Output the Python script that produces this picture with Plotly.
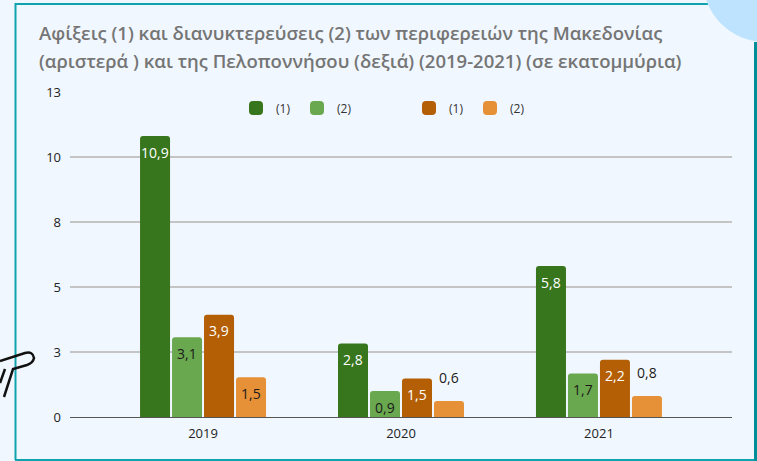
import plotly.graph_objects as go

years = ["2019", "2020", "2021"]
mac_arrivals = [11.2, 2.9, 6.0]
mac_nights = [3.15, 1.0, 1.7]
pel_arrivals = [4.05, 1.5, 2.25]
pel_nights = [1.55, 0.6, 0.8]
mac_arrivals_labels = ["10,9", "2,8", "5,8"]
mac_nights_labels = ["3,1", "0,9", "1,7"]
pel_arrivals_labels = ["3,9", "1,5", "2,2"]
pel_nights_labels = ["1,5", "0,6", "0,8"]
series_names = ["(1)", "(2)", "(1)", "(2)"]
tick_values = [0, 2.6, 5.2, 7.8, 10.4, 13]
tick_labels = ["0", "3", "5", "8", "10", "13"]
title_line_1 = "Αφίξεις (1) και διανυκτερεύσεις (2) των περιφερειών της Μακεδονίας"
title_line_2 = "(αριστερά ) και της Πελοποννήσου (δεξιά) (2019-2021) (σε εκατομμύρια)"

W, H = 757, 461
L, R, T, B = 70, 25, 92, 44
PW, PH = W - L - R, H - T - B
FONT = "Open Sans"
BG = "#f0f7ff"
colors = ["#38761d", "#6aa84f", "#b45f06", "#e69138"]
label_colors = ["#ffffff", "#1a1a1a", "#ffffff", "#1a1a1a"]
values = [mac_arrivals, mac_nights, pel_arrivals, pel_nights]
labels = [mac_arrivals_labels, mac_nights_labels, pel_arrivals_labels, pel_nights_labels]
legends = ["legend", "legend", "legend2", "legend2"]


def px(x):
    return (x - L) / PW


def py(y):
    return (H - B - y) / PH


fig = go.Figure()
for name, v, c, lg in zip(series_names, values, colors, legends):
    fig.add_bar(x=years, y=v, name=name, marker=dict(color=c, line=dict(color=c, width=2)),
                legend=lg, hoverinfo="skip")

shifts = [-48, -16, 16, 48]
for i, (v, lab) in enumerate(zip(values, labels)):
    for j, (y, t) in enumerate(zip(v, lab)):
        outside = y < 0.9
        fig.add_annotation(xref="x", yref="y", x=j, y=y, text=t, showarrow=False,
                           xshift=shifts[i], yshift=25 if outside else -15,
                           font=dict(family=FONT, size=14, color="#1a1a1a" if outside else label_colors[i],
                                     shadow="0 0 3px #ffffff" if outside else "none"))

legend_style = dict(orientation="h", xanchor="left", yanchor="middle", bgcolor="rgba(0,0,0,0)",
                    font=dict(family=FONT, size=12, color="#333333"), itemwidth=30,
                    entrywidth=16, entrywidthmode="pixels", traceorder="normal", tracegroupgap=0)

fig.add_annotation(xref="paper", yref="paper", x=px(37), y=py(60), xanchor="left", yanchor="middle",
                   text=title_line_2, showarrow=False,
                   font=dict(family=FONT, size=18.5, color="#757575", weight=600))

fig.update_layout(
    width=W, height=H, autosize=False,
    margin=dict(l=L, r=R, t=T, b=B),
    paper_bgcolor=BG, plot_bgcolor=BG,
    barmode="group", bargap=0.3535, bargroupgap=0.125, barcornerradius=2,
    title=dict(text=title_line_1, x=39 / W, xanchor="left", y=1 - 34 / H, yanchor="middle",
               font=dict(family=FONT, size=18.5, color="#757575", weight=600)),
    font=dict(family=FONT, size=12, color="#222222"),
    xaxis=dict(type="category", range=[-0.672, 2.672], showgrid=False, ticks="", showline=True,
               linecolor="#555555", linewidth=1, tickfont=dict(size=13, color="#222222"), ticklabelstandoff=4),
    yaxis=dict(range=[0, 13], tickvals=tick_values, ticktext=tick_labels, gridcolor="#c4c4c4", gridwidth=1.5,
               zeroline=False, showline=False, ticks="", ticklabelstandoff=8, tickfont=dict(size=13, color="#222222")),
    legend=dict(x=px(236), y=py(108), **legend_style),
    legend2=dict(x=px(409), y=py(108), **legend_style),
    showlegend=True,
)

TEAL = "#0fa3ad"
frame = [
    (15.5, 4, 708, 4, TEAL, 2),
    (15.5, 3, 15.5, 460, TEAL, 2),
    (15, 460, 757, 460, TEAL, 2),
    (755.5, 42, 755.5, 461, "#008f98", 3),
]
for x0, y0, x1, y1, c, w in frame:
    fig.add_shape(type="line", xref="paper", yref="paper", x0=px(x0), y0=py(y0), x1=px(x1), y1=py(y1),
                  line=dict(color=c, width=w))

# corner disc
fig.add_shape(type="circle", xref="paper", yref="paper", x0=px(703), x1=px(827), y0=py(-82), y1=py(42),
              fillcolor="#bde3ff", line_width=0)


def p(pts):
    return " ".join(f"{c}{px(x):.5f},{py(y):.5f}" for c, x, y in pts)


# plane outline
plane_paths = [
    [("M", 0, 361), ("L", 25, 353), ("Q", 33, 351), ("", 34, 358), ("Q", 33, 363), ("", 27, 365), ("L", 13, 369), ("L", 4, 397)],
    [("M", 5, 369), ("L", 0, 383)],
]
for pts in plane_paths:
    fig.add_shape(type="path", xref="paper", yref="paper", path=p(pts), line=dict(color="#111111", width=2.5))

fig.write_html("out.html", config={"displayModeBar": False},
               post_script="document.body.style.margin='0';document.body.style.overflow='hidden';")
